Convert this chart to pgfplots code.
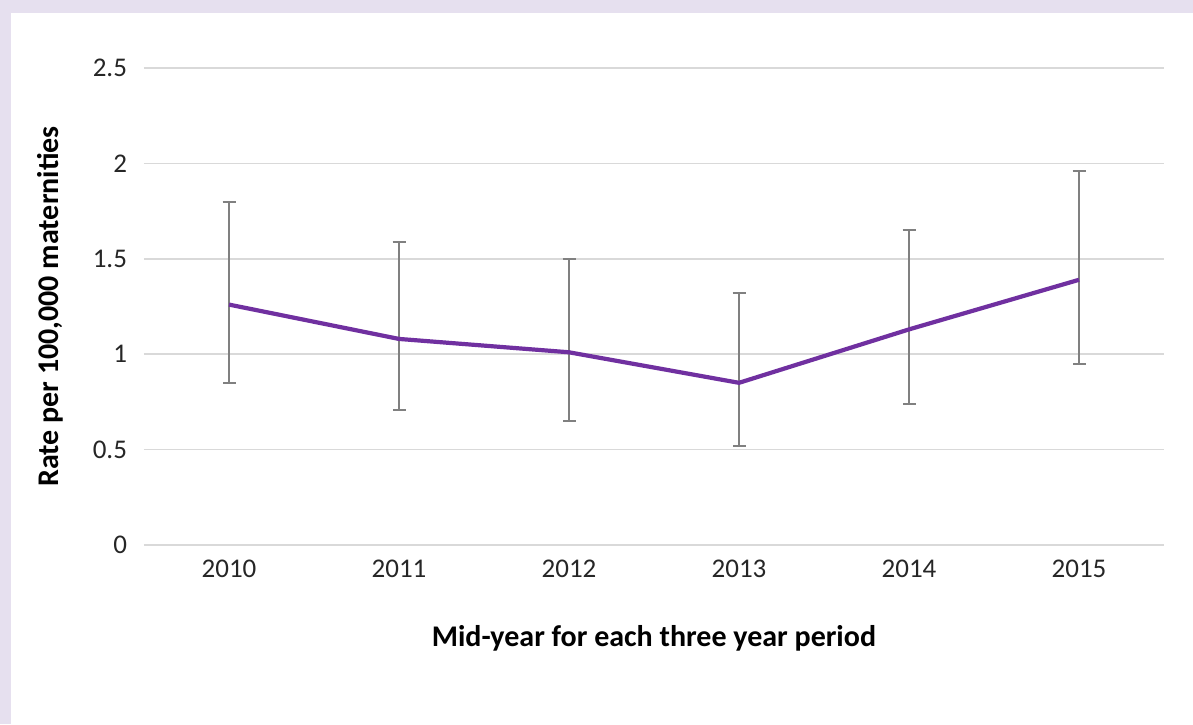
\documentclass[border=0pt]{standalone}
\usepackage{pgfplots}
\pgfplotsset{compat=1.18}
\usepackage{pgfplotstable}
\usepackage{fontspec}
\setmainfont{Carlito}
\definecolor{lav}{HTML}{E6E0EF}
\definecolor{gridc}{HTML}{D9D9D9}
\definecolor{linec}{HTML}{7030A0}
\definecolor{errc}{HTML}{808080}
\pgfplotstableread{
x y lo hi
0 1.26 0.85 1.80
1 1.08 0.71 1.59
2 1.01 0.65 1.50
3 0.85 0.52 1.32
4 1.13 0.74 1.65
5 1.39 0.95 1.96
}\datatab
\begin{document}
\begin{tikzpicture}[x=0.5bp,y=0.5bp]
\fill[lav] (-144,-179) rectangle (1049,545);
\fill[white] (-133,-179) rectangle (1049,532);
\begin{axis}[
  at={(0,0)}, anchor=south west,
  scale only axis, width=510bp, height=238.5bp,
  xmin=-0.5, xmax=5.5, ymin=0, ymax=2.5,
  xtick={0,1,2,3,4,5},
  xticklabels={2010,2011,2012,2013,2014,2015},
  ytick={0,0.5,1,1.5,2,2.5},
  yticklabels={0,0.5,1,1.5,2,2.5},
  axis line style={draw=none},
  tick style={draw=none},
  ymajorgrids, grid style={gridc, line width=0.8bp},
  ticklabel style={font=\fontsize{13.5bp}{16bp}\selectfont, text=black!85},
  yticklabel style={xshift=-5bp},
  xticklabel style={yshift=-4bp},
  xlabel={\textbf{Mid-year for each three year period}},
  ylabel={\textbf{Rate per 100,000 maternities}},
  label style={font=\fontsize{15bp}{18bp}\selectfont},
  xlabel style={yshift=-17bp},
  ylabel style={yshift=8bp},
  clip=false,
]
\addplot[draw=none, mark=none,
  error bars/.cd, y dir=both, y explicit,
  error bar style={draw=errc, line width=1bp},
  error mark options={draw=errc, rotate=90, mark size=3.25bp, line width=1bp}]
  table[x=x, y=y, y error plus expr=\thisrow{hi}-\thisrow{y}, y error minus expr=\thisrow{y}-\thisrow{lo}] {\datatab};
\addplot[linec, line width=2.1bp, mark=none] table[x=x, y=y] {\datatab};
\end{axis}
\end{tikzpicture}
\end{document}
